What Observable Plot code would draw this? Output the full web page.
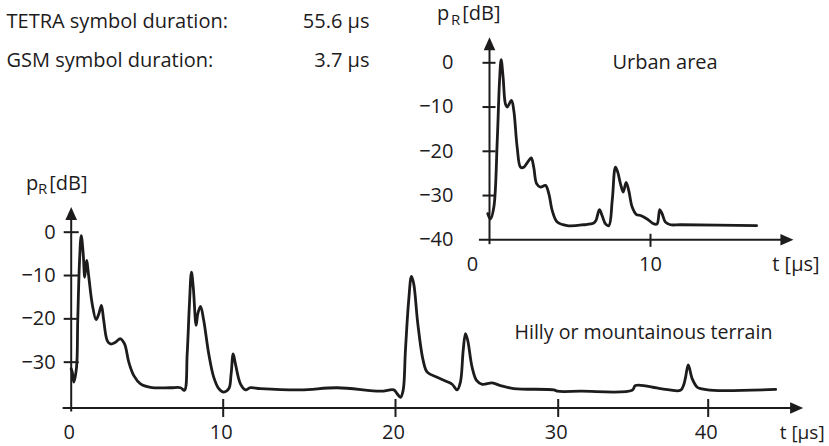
<!DOCTYPE html>
<html><head><meta charset="utf-8">
<script src="https://cdn.jsdelivr.net/npm/d3@7"></script>
<script src="https://cdn.jsdelivr.net/npm/@observablehq/plot@0.6"></script>
<style>
body{margin:0;background:#fff;}
#chart{position:relative;width:829px;height:446px;}
#chart svg{position:absolute;left:0;top:0;}
</style></head><body><div id="chart"></div>
<script>
// ---- data ----
const hillyT = [0.0, 0.07, 0.17, 0.35, 0.43, 0.55, 0.66, 0.79, 0.89, 1.01, 1.16, 1.38, 1.64, 1.82, 1.99, 2.14, 2.37, 2.59, 2.91, 3.24, 3.51, 3.79, 4.12, 4.56, 5.22, 6.53, 7.19, 7.45, 7.63, 7.78, 7.91, 8.03, 8.22, 8.33, 8.51, 8.72, 9.05, 9.38, 9.71, 10.03, 10.33, 10.46, 10.58, 10.71, 11.0, 11.29, 11.58, 12.16, 14.49, 16.62, 19.13, 19.9, 20.1, 20.31, 20.47, 20.61, 20.81, 20.98, 21.12, 21.37, 21.7, 21.95, 22.56, 23.18, 23.48, 23.79, 23.99, 24.16, 24.3, 24.44, 24.71, 24.98, 25.33, 25.94, 26.45, 27.27, 29.73, 29.94, 31.49, 34.93, 35.15, 36.82, 38.15, 38.37, 38.49, 38.67, 38.93, 39.27, 39.49, 40.37, 44.5];
const hillyDb = [-31.5, -32.3, -34.6, -31.2, -20.4, -6.5, -0.8, -5.0, -10.4, -6.5, -10.4, -16.5, -20.2, -18.8, -16.9, -20.4, -25.0, -25.8, -25.4, -24.6, -25.8, -30.0, -33.1, -35.0, -35.8, -35.9, -35.9, -36.5, -28.1, -16.5, -9.2, -12.7, -21.5, -18.8, -17.1, -20.4, -28.1, -33.5, -36.1, -36.9, -36.1, -32.7, -28.1, -30.4, -35.0, -36.4, -35.9, -36.1, -36.4, -35.9, -36.7, -36.4, -37.3, -38.1, -36.5, -27.3, -15.8, -10.2, -11.9, -21.1, -29.6, -32.3, -33.5, -34.5, -35.1, -36.4, -34.6, -27.3, -23.4, -25.0, -31.2, -34.2, -35.1, -34.8, -35.4, -36.1, -36.4, -36.7, -36.7, -36.5, -35.4, -36.1, -36.5, -35.2, -33.5, -30.6, -33.8, -35.8, -36.1, -36.5, -36.3];
const urbanT = [0.86, 1.01, 1.2, 1.39, 1.52, 1.61, 1.72, 1.85, 1.95, 2.19, 2.32, 2.51, 2.7, 2.88, 3.16, 3.3, 3.44, 3.6, 3.82, 4.1, 4.29, 4.48, 4.76, 5.32, 6.25, 6.81, 6.94, 7.13, 7.28, 7.47, 7.66, 7.85, 8.03, 8.16, 8.31, 8.47, 8.63, 8.78, 8.97, 9.21, 9.44, 9.81, 10.19, 10.37, 10.52, 10.65, 10.84, 11.12, 11.7, 15.96];
const urbanDb = [-34.1, -35.3, -32.6, -17.6, -4, 0.7, -3.3, -9.3, -10, -8.5, -10.8, -19.1, -23.6, -23.6, -22.1, -21.5, -23.6, -27.3, -28.1, -27.7, -29.6, -33.4, -36, -36.8, -36.6, -36.2, -35.6, -33.2, -34.5, -36.4, -36.8, -31.1, -23.6, -24.7, -27.3, -29.2, -27, -28.9, -32.6, -34.3, -34.5, -35.3, -36.4, -36.4, -33.2, -34.1, -36, -36.6, -36.6, -36.8];
const mainXTicks = [0, 10, 20, 30, 40];
const mainYTicks = [0, -10, -20, -30];
const insetXTicks = [0, 10];
const insetYTicks = [0, -10, -20, -30, -40];
const infoLabels = ["TETRA symbol duration:", "GSM symbol duration:"];
const infoValues = ["55.6 µs", "3.7 µs"];
const hillyLabel = "Hilly or mountainous terrain";
const urbanLabel = "Urban area";
const xUnit = "t [µs]";
const yUnit = ["p", "R", "[dB]"];

// ---- layout / style ----
const W = 829, H = 446;
const ink = "#1d1b1c";
const font = "'Open Sans', sans-serif";
const fmt = d => d < 0 ? "\u2212" + Math.abs(d) : String(d);
const main = {xAxisAt: -40.57, xMin: -0.53, xTip: 46.33, yMin: -41.5, yTip: 5.8};
const inset = {xAxisAt: -40, yAxisAt: 0.955, xMin: 0.39, xTip: 18.03, yMin: -41.1, yTip: 5.8};

const hTick = {draw(c){ c.moveTo(-7.5, 0); c.lineTo(7.5, 0); }};
const hTickS = {draw(c){ c.moveTo(-7, 0); c.lineTo(6, 0); }};
const vTick = {draw(c){ c.moveTo(0, -9); c.lineTo(0, 9); }};
const vTickS = {draw(c){ c.moveTo(0, -6); c.lineTo(0, 7); }};
const arrowRight = {draw(c){ c.moveTo(0, 0); c.lineTo(-13, -5.8); c.lineTo(-13, 5.8); c.closePath(); }};
const arrowUp = {draw(c){ c.moveTo(0, 0); c.lineTo(-5.8, 13); c.lineTo(5.8, 13); c.closePath(); }};

const txt = (s, dx, dy, o = {}) => Plot.text([s], {frameAnchor: "top-left", text: d => d, dx, dy,
  fontSize: 20, fill: ink, textAnchor: "start", lineAnchor: "middle", ...o});

const hilly = hillyT.map((t, i) => ({t, db: hillyDb[i]}));
const urban = urbanT.map((t, i) => ({t, db: urbanDb[i]}));

const mainPlot = Plot.plot({
  width: W, height: H, margin: 0,
  style: {fontFamily: font, background: "transparent", overflow: "visible"},
  x: {type: "linear", domain: [0, 10, 20, 30, 40], range: [70.7, 222.7, 395, 557.7, 707.7], axis: null},
  y: {type: "linear", domain: [-40, 0], range: [405, 231.7], axis: null},
  marks: [
    Plot.ruleY([main.xAxisAt], {x1: main.xMin, x2: main.xTip - 0.5, stroke: ink, strokeWidth: 2}),
    Plot.ruleX([0], {y1: main.yMin, y2: main.yTip - 1, stroke: ink, strokeWidth: 2}),
    Plot.dot([0], {x: () => main.xTip, y: () => main.xAxisAt, symbol: arrowRight, fill: ink, stroke: "none", r: 5}),
    Plot.dot([0], {x: () => 0, y: () => main.yTip, symbol: arrowUp, fill: ink, stroke: "none", r: 5}),
    Plot.dot(mainXTicks.filter(d => d !== 0), {x: d => d, y: () => main.xAxisAt, symbol: vTick, stroke: ink, strokeWidth: 2, fill: "none", r: 5}),
    Plot.dot(mainYTicks, {x: () => 0, y: d => d, symbol: hTick, stroke: ink, strokeWidth: 2, fill: "none", r: 5}),
    Plot.text(mainXTicks, {x: d => d, y: () => main.xAxisAt, text: fmt, dy: 24.5, dx: -2, fontSize: 20, fill: ink}),
    Plot.text(mainYTicks, {x: () => 0, y: d => d, text: fmt, dx: -15.5, textAnchor: "end", fontSize: 20, fill: ink}),
    Plot.text([xUnit], {x: () => main.xTip, y: () => main.xAxisAt, text: d => d, dy: 25, dx: -1, fontSize: 19, fill: ink}),
    Plot.line(hilly, {x: "t", y: "db", curve: "catmull-rom", stroke: ink, strokeWidth: 2.8, strokeLinejoin: "round"}),
    txt(hillyLabel, 514, 332, {fontSize: 19.6}),
    txt(urbanLabel, 612, 62),
    txt(infoLabels[0], 6, 20.7),
    txt(infoLabels[1], 6, 60),
    txt(infoValues[0], 369, 20.7, {textAnchor: "end"}),
    txt(infoValues[1], 369, 60, {textAnchor: "end"}),
    // main y unit label p_R[dB]
    txt(yUnit[0], 25.5, 189, {lineAnchor: "bottom"}),
    txt(yUnit[1], 37.5, 193.5, {lineAnchor: "bottom", fontSize: 15}),
    txt(yUnit[2], 48.8, 189, {lineAnchor: "bottom"}),
    // inset y unit label
    txt(yUnit[0], 436.5, 19, {lineAnchor: "bottom"}),
    txt(yUnit[1], 450.5, 24, {lineAnchor: "bottom", fontSize: 15}),
    txt(yUnit[2], 461.8, 19, {lineAnchor: "bottom"})
  ]
});

const insetPlot = Plot.plot({
  width: W, height: H, margin: 0,
  style: {fontFamily: font, background: "transparent", overflow: "visible"},
  x: {type: "linear", domain: [0, 10], range: [472, 650], axis: null},
  y: {type: "linear", domain: [-40, 0], range: [239.3, 62.3], axis: null},
  marks: [
    Plot.ruleY([inset.xAxisAt], {x1: inset.xMin, x2: inset.xTip - 0.4, stroke: ink, strokeWidth: 2}),
    Plot.ruleX([inset.yAxisAt], {y1: inset.yMin, y2: inset.yTip - 1, stroke: ink, strokeWidth: 2}),
    Plot.dot([0], {x: () => inset.xTip, y: () => inset.xAxisAt, symbol: arrowRight, fill: ink, stroke: "none", r: 5}),
    Plot.dot([0], {x: () => inset.yAxisAt, y: () => inset.yTip, symbol: arrowUp, fill: ink, stroke: "none", r: 5}),
    Plot.dot(insetXTicks.filter(d => d !== 0), {x: d => d, y: () => inset.xAxisAt, symbol: vTickS, stroke: ink, strokeWidth: 2, fill: "none", r: 5}),
    Plot.dot(insetYTicks.filter(d => d !== -40), {x: () => inset.yAxisAt, y: d => d, symbol: hTickS, stroke: ink, strokeWidth: 2, fill: "none", r: 5}),
    Plot.text(insetXTicks, {x: d => d, y: () => inset.xAxisAt, text: fmt, dy: 24.7, fontSize: 20, fill: ink}),
    Plot.text(insetYTicks, {x: () => inset.yAxisAt, y: d => d, text: fmt, dx: -36, textAnchor: "end", fontSize: 20, fill: ink}),
    Plot.text([xUnit], {x: () => inset.xTip, y: () => inset.xAxisAt, text: d => d, dy: 24.7, dx: 2.5, fontSize: 20, fill: ink}),
    Plot.line(urban, {x: "t", y: "db", curve: "catmull-rom", stroke: ink, strokeWidth: 2.8, strokeLinejoin: "round"})
  ]
});

const host = document.getElementById("chart");
host.append(mainPlot, insetPlot);
</script></body></html>
